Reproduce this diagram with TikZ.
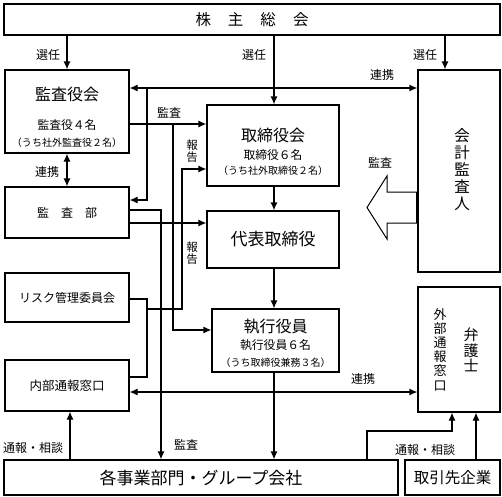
\documentclass[tikz,border=0pt]{standalone}
\usepackage{fontspec}
\setmainfont{Noto Sans CJK JP}
\usetikzlibrary{arrows.meta}
\tikzset{
  box/.style={draw, line width=1.2pt, inner sep=0pt, align=center},
  ln/.style={line width=1.2pt},
  arr/.style={ln, -{Latex[length=8pt,width=7pt]}},
  darr/.style={ln, {Latex[length=8pt,width=7pt]}-{Latex[length=8pt,width=7pt]}},
  lbl/.style={font=\fontsize{12}{14}\selectfont, inner sep=0pt},
  vlbl/.style={font=\fontsize{11.5}{12.5}\selectfont, inner sep=0pt, align=center},
  ttl/.style={font=\fontsize{16}{18}\selectfont, inner sep=0pt},
  sub/.style={font=\fontsize{11.8}{14}\selectfont, inner sep=0pt},
  note/.style={font=\fontsize{10}{12}\selectfont, inner sep=0pt},
}
\begin{document}
\begin{tikzpicture}[x=1pt,y=-1pt]
\useasboundingbox (0,0) rectangle (502,496);
% boxes
\node[box, minimum width=496pt, minimum height=31pt, font=\fontsize{15.5}{17}\selectfont] (sh) at (252,19.5) {株\hspace{17pt}主\hspace{17pt}総\hspace{17pt}会};
\node[box, minimum width=124pt, minimum height=83pt] (ksy) at (67,111.5) {};
\node[ttl] at (67,94) {監査役会};
\node[sub] at (67,125) {監査役４名};
\node[note] at (67,143) {（うち社外監査役２名）};
\node[box, minimum width=132pt, minimum height=81pt] (tr) at (273,145.5) {};
\node[ttl] at (273,135) {取締役会};
\node[sub] at (273,155) {取締役６名};
\node[note] at (273,171) {（うち社外取締役２名）};
\node[box, minimum width=82pt, minimum height=202pt] (kk) at (459,171) {};
\node[font=\fontsize{15.5}{17}\selectfont, inner sep=0pt, align=center] at (462,170) {会\\計\\監\\査\\人};
\node[box, minimum width=124pt, minimum height=51pt, font=\fontsize{12}{14}\selectfont] (kb) at (67,212.5) {監\hspace{12pt}査\hspace{12pt}部};
\node[box, minimum width=132pt, minimum height=57pt, font=\fontsize{17}{19}\selectfont] (dh) at (273,239.5) {代表取締役};
\node[box, minimum width=124pt, minimum height=49pt, font=\fontsize{12}{14}\selectfont] (rk) at (67,297.5) {リスク管理委員会};
\node[box, minimum width=127pt, minimum height=63pt] (sk) at (275.5,340.5) {};
\node[ttl] at (275.5,327) {執行役員};
\node[sub] at (275.5,345) {執行役員６名};
\node[note] at (275.5,363) {（うち取締役兼務３名）};
\node[box, minimum width=124pt, minimum height=51pt, font=\fontsize{12.5}{14}\selectfont] (nb) at (67,385.5) {内部通報窓口};
\node[box, minimum width=82pt, minimum height=125pt] (gb) at (459,349.5) {};
\node[font=\fontsize{13}{14.2}\selectfont, inner sep=0pt, align=center] at (440,349.5) {外\\部\\通\\報\\窓\\口};
\node[font=\fontsize{15}{15.5}\selectfont, inner sep=0pt, align=center] at (471,350) {弁\\護\\士};
\node[box, minimum width=394pt, minimum height=35pt, font=\fontsize{17}{19}\selectfont] (jg) at (201,477.5) {各事業部門・グループ会社};
\node[box, minimum width=95pt, minimum height=35pt, font=\fontsize{15.5}{17}\selectfont] (th) at (452.5,477.5) {取引先企業};
% helper coordinates
\coordinate (c445) at (445,0);
\coordinate (c274) at (274,0);
\coordinate (y88) at (0,88);
\coordinate (j88) at (147,88);
\coordinate (j200) at (147,200);
\coordinate (y124) at (0,124);
\coordinate (j124) at (173,124);
\coordinate (j330) at (173,330);
\coordinate (y210) at (0,210);
\coordinate (j210) at (161,210);
\coordinate (y223) at (0,223);
\coordinate (y299) at (0,299);
\coordinate (j299) at (147,299);
\coordinate (j377) at (147,377);
\coordinate (y377) at (0,377);
\coordinate (j309) at (147,309);
\coordinate (k309) at (182,309);
\coordinate (k169) at (182,169);
\coordinate (y392) at (0,392);
\coordinate (c70) at (70,0);
\coordinate (c367) at (367,0);
\coordinate (m431) at (367,431);
\coordinate (n431) at (452,431);
\coordinate (c476) at (476,0);
% connectors
\draw[arr] (sh.south -| ksy) -- (ksy.north);
\draw[arr] (sh.south -| c274) -- (tr.north -| c274);
\draw[arr] (sh.south -| c445) -- (kk.north -| c445);
\draw[darr] (ksy.east |- y88) -- (kk.west |- y88);
\draw[arr] (j88) -- (j200) -- (kb.east |- j200);
\draw[arr] (ksy.east |- y124) -- (tr.west |- y124);
\draw[arr] (j124) -- (j330) -- (sk.west |- j330);
\draw[arr] (kb.east |- y210) -- (j210) -- (jg.north -| j210);
\draw[arr] (kb.east |- y223) -- (dh.west |- y223);
\draw[ln] (rk.east |- y299) -- (j299) -- (j377) -- (nb.east |- y377);
\draw[arr] (j309) -- (k309) -- (k169) -- (tr.west |- k169);
\draw[arr] (tr.south -| c274) -- (dh.north -| c274);
\draw[arr] (dh.south -| c274) -- (sk.north -| c274);
\draw[arr] (sk.south -| c274) -- (jg.north -| c274);
\draw[darr] (nb.east |- y392) -- (gb.west |- y392);
\draw[arr] (jg.north -| c70) -- (nb.south -| c70);
\draw[arr] (jg.north -| c367) -- (m431) -- (n431) -- (gb.south -| n431);
\draw[arr] (th.north -| c476) -- (gb.south -| c476);
\draw[darr] (ksy.south) -- (kb.north);
% big hollow arrow
\draw[line width=1pt, fill=white] (417,192) -- (387,192) -- (387,176) -- (367,207.5) -- (387,239) -- (387,223) -- (417,223);
\draw[line width=2.6pt] (417,192) -- (417,223);
% labels
\node[lbl] at (48,55) {選任};
\node[lbl] at (254,55) {選任};
\node[lbl] at (425,55) {選任};
\node[lbl] at (382,75) {連携};
\node[lbl] at (169,113) {監査};
\node[vlbl] at (192,151) {報\\告};
\node[vlbl] at (192,253) {報\\告};
\node[lbl] at (47,172) {連携};
\node[lbl] at (380,163) {監査};
\node[lbl] at (363,379) {連携};
\node[lbl] at (33,448) {通報・相談};
\node[lbl] at (186,445) {監査};
\node[lbl] at (425,450) {通報・相談};
\end{tikzpicture}
\end{document}
